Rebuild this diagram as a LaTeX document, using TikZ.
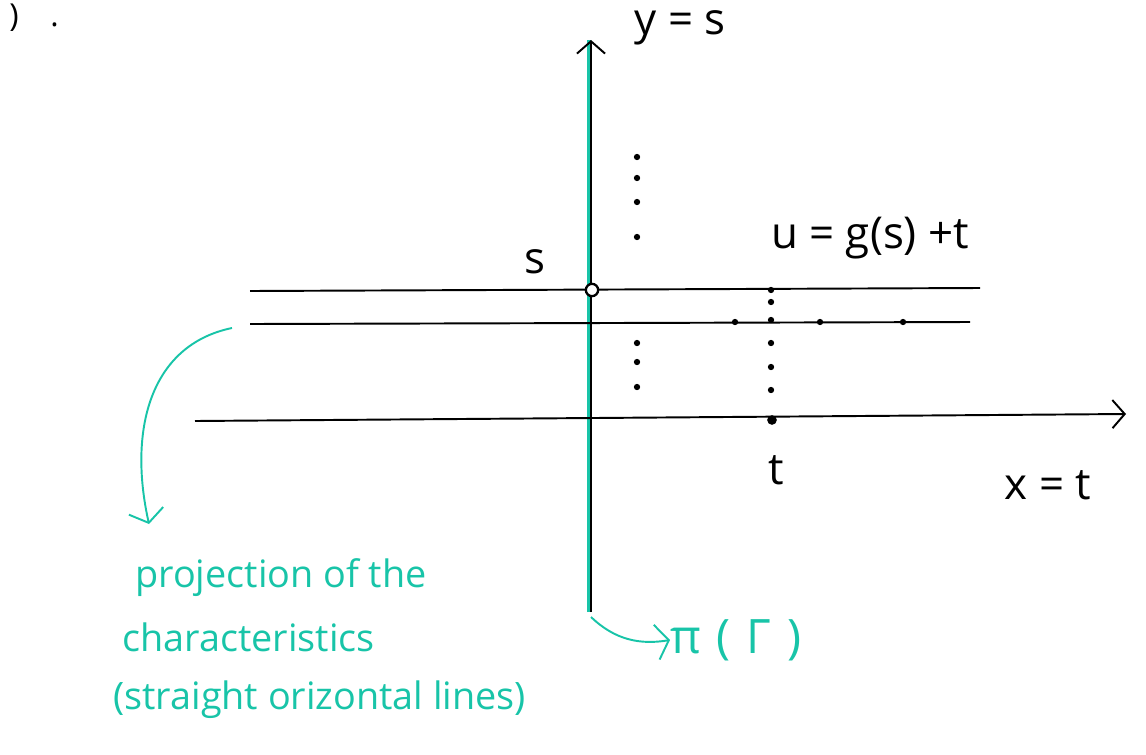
\documentclass[tikz,border=0pt]{standalone}
\usepackage{fontspec}
\setmainfont{Open Sans}
\usepackage{xcolor}
\usetikzlibrary{arrows.meta}
\definecolor{mint}{RGB}{24,196,168}
\tikzset{
  axisline/.style  = {draw=black, line width=1.1pt, -{Straight Barb[length=7pt,width=16pt,line width=1.1pt]}},
  charline/.style  = {draw=black, line width=1.1pt},
  dotmark/.style   = {circle, fill=black, inner sep=0pt, minimum size=3.6pt},
  bigdot/.style    = {circle, fill=black, inner sep=0pt, minimum size=5.5pt},
  ring/.style      = {circle, draw=black, line width=1.3pt, fill=white, inner sep=0pt, minimum size=7pt},
  lbl/.style       = {font=\fontsize{25}{30}\selectfont, inner sep=0pt},
  note/.style      = {font=\fontsize{21.5}{26}\selectfont, text=mint, anchor=west, inner sep=0pt},
  pointer/.style   = {draw=mint, line width=1.1pt, -{Straight Barb[length=7pt,width=20pt,line width=1.1pt]}},
}
\begin{document}
\begin{tikzpicture}[x=0.02cm,y=-0.02cm]
  \useasboundingbox (0,0) rectangle (1146,754);

  % axes
  \coordinate (ybot) at (591,612);
  \coordinate (ytop) at (591,40);
  \coordinate (xl) at (195,421);
  \coordinate (xr) at (1126,414);
  \draw[mint, line width=2.2pt] ([xshift=-0.04cm]ybot) -- ([xshift=-0.04cm]ytop);
  \draw[axisline] (ybot) -- (ytop);
  \draw[axisline] (xl) -- (xr);

  % characteristics
  \coordinate (a1) at (250,291);
  \coordinate (a2) at (980,288);
  \coordinate (b1) at (250,324);
  \coordinate (b2) at (970,322);
  \draw[charline] (a1) -- (a2);
  \draw[charline] (b1) -- (b2);
  \node[ring] (s0) at (592,290) {};

  \foreach \y [count=\i] in {157,178,202,237,343,362,387} {
    \node[dotmark] (v\i) at (637,\y) {};
  }
  \foreach \y [count=\i] in {290,302,320,343,367,390} {
    \node[dotmark] (w\i) at (771,\y) {};
  }
  \node[bigdot] (tpt) at (772,420) {};
  \foreach \x [count=\i] in {735,820,903} {
    \node[dotmark] (m\i) at (\x,322) {};
  }

  % labels
  \node[lbl, font=\fontsize{18}{20}\selectfont] (frag) at (34,18) {)\quad.};
  \node[lbl] (ylab) at (680,28) {y = s};
  \node[lbl] (slab) at (535,262) {s};
  \node[lbl] (ulab) at (870,238) {u = g(s) +t};
  \node[lbl] (tlab) at (776,470) {t};
  \node[lbl] (xlab) at (1048,485) {x = t};

  % projection notes
  \node[note] (p1) at (135,578) {projection of the};
  \node[note] (p2) at (122,637) {characteristics};
  \node[note] (p3) at (113,700) {(straight orizontal lines)};
  \node[note, font=\fontsize{27}{30}\selectfont] (pig) at (670,640) {π\,\,(\,\,Γ\,\,)};

  \coordinate (c0) at (232,328);
  \coordinate (c1) at (149,524);
  \draw[pointer] (c0) .. controls (150,345) and (128,430) .. (c1);
  \draw[pointer] ([yshift=-0.1cm]ybot) .. controls (615,640) and (640,645) .. (pig.west);
\end{tikzpicture}
\end{document}
